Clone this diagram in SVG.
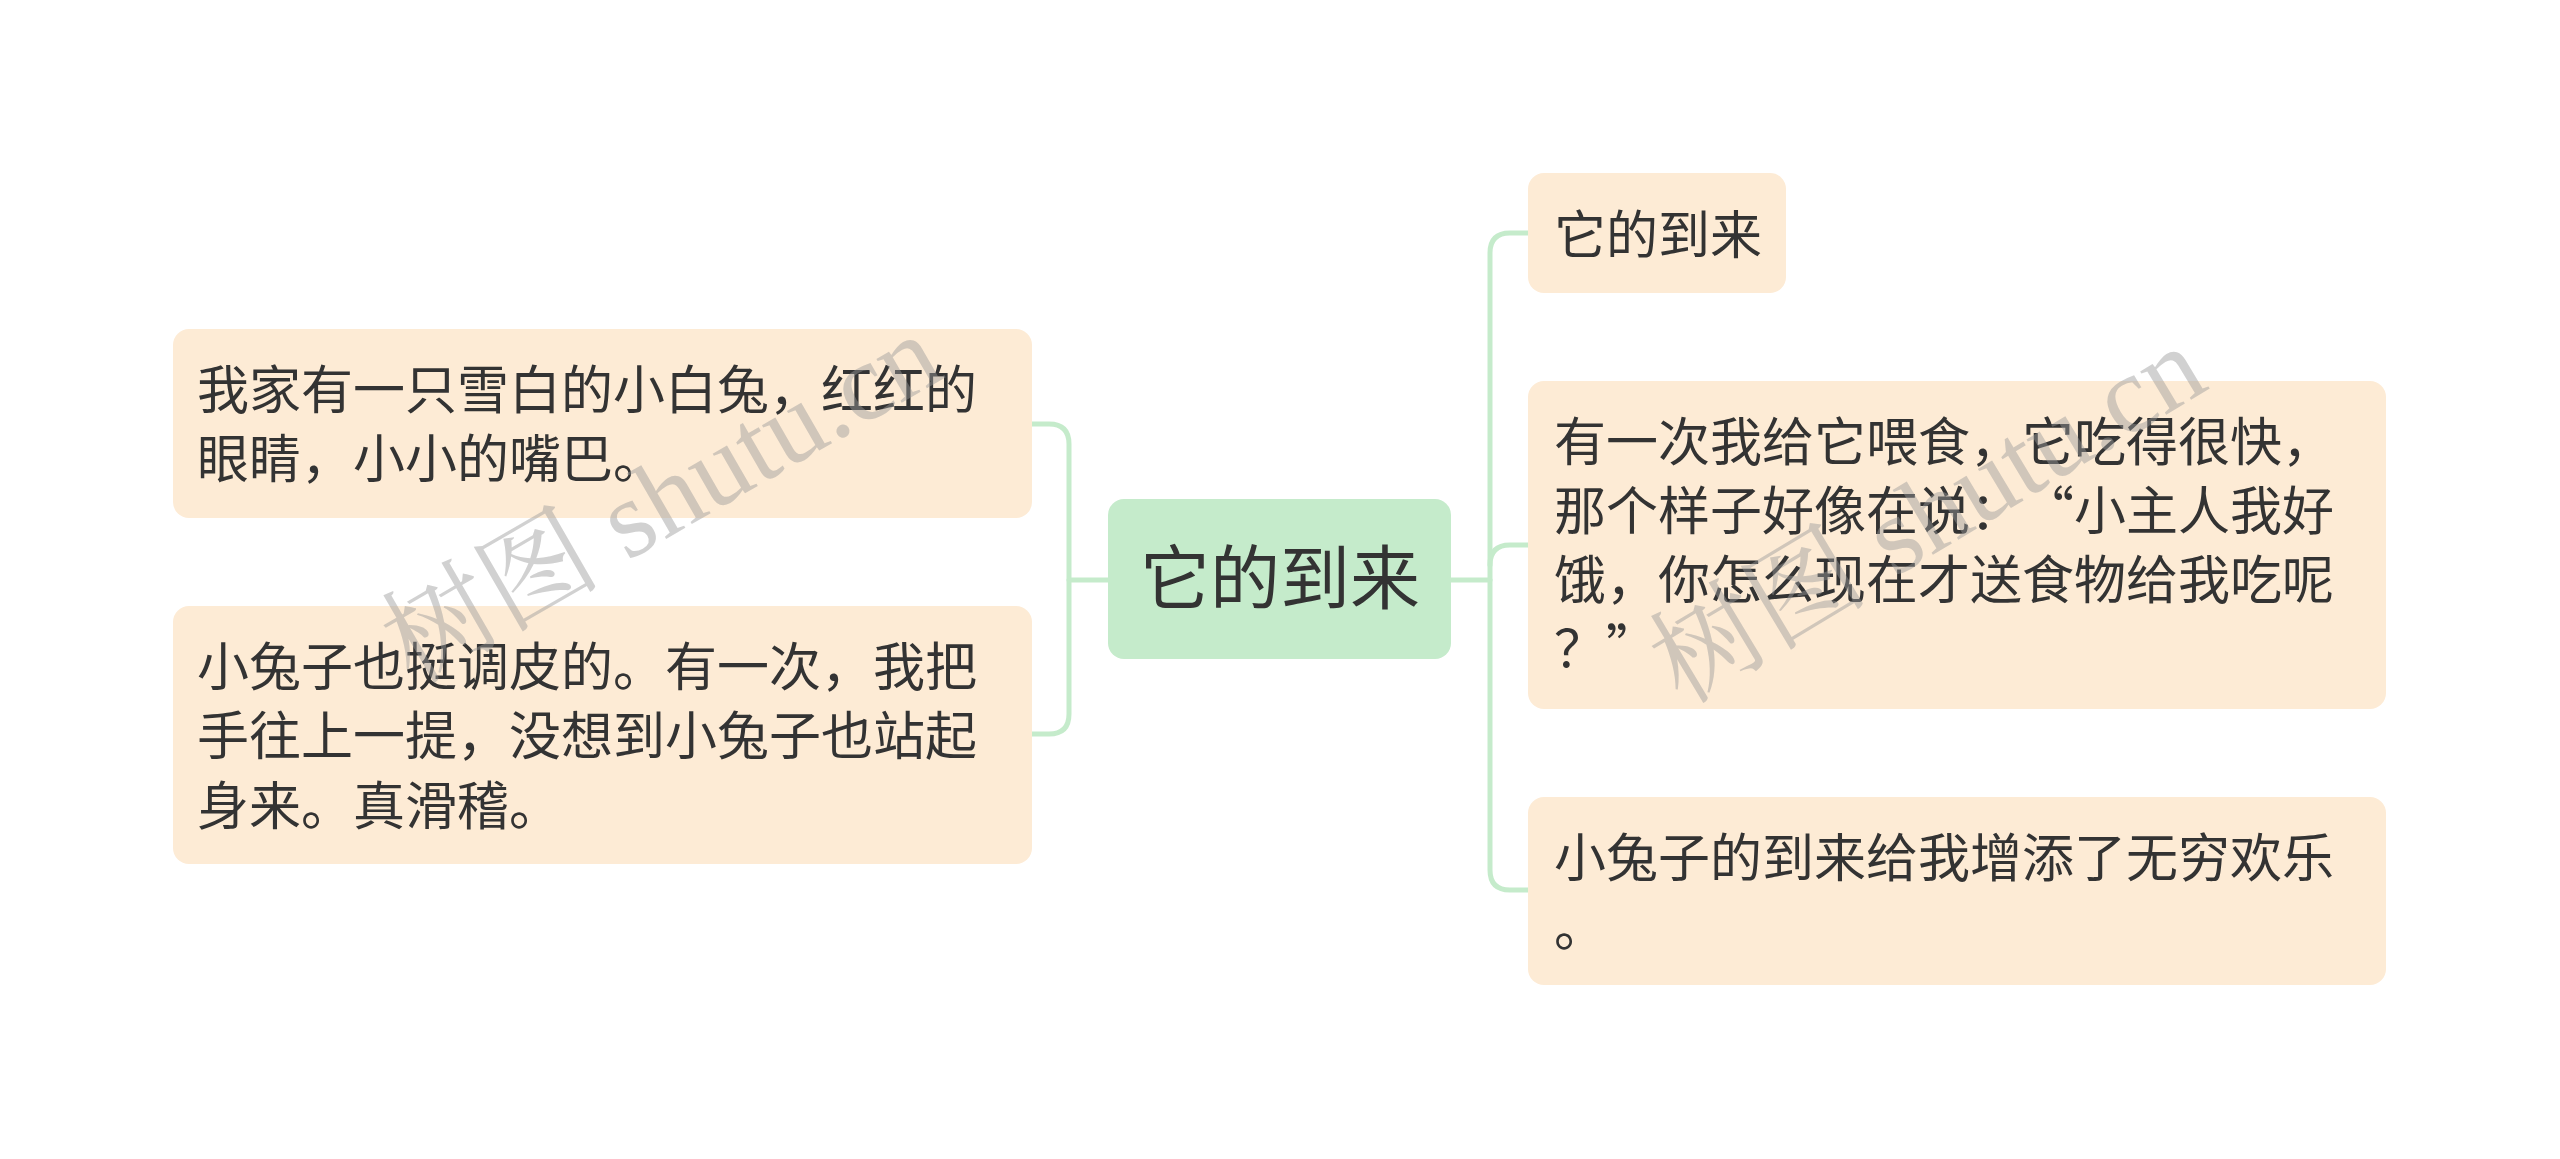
<svg xmlns="http://www.w3.org/2000/svg" width="2560" height="1159" viewBox="0 0 2560 1159">
<style>
.node{fill:#fdebd5}
.root{fill:#c5ebcb}
.t{font-family:"Noto Sans CJK SC","Noto Sans",sans-serif;font-size:52px;fill:#333333}
.rt{font-family:"Noto Sans CJK SC","Noto Sans",sans-serif;font-size:70px;fill:#333333}
.conn{fill:none;stroke:#c5ebcb;stroke-width:5;stroke-linecap:round}
.wm{font-family:"Liberation Serif","Noto Serif CJK SC","Noto Sans CJK SC",serif;font-size:110px;fill:#9a9a9a;fill-opacity:0.45}
</style>
<rect width="2560" height="1159" fill="#ffffff"/>
<g id="connectors">
<path class="conn" d="M1108,580 H1069"/>
<path class="conn" d="M1032,424 H1049 Q1069,424 1069,444 V714 Q1069,734 1049,734 H1032"/>
<path class="conn" d="M1451,580 H1490"/>
<path class="conn" d="M1528,233 H1510 Q1490,233 1490,253 V870 Q1490,890 1510,890 H1528"/>
<path class="conn" d="M1490,565 Q1490,545 1510,545 H1528"/>
</g>
<g id="root">
<rect class="root" x="1108" y="499" width="343" height="160" rx="16"/>
<text class="rt" x="1280" y="604" text-anchor="middle">它的到来</text>
</g>
<g id="left1">
<rect class="node" x="173" y="329" width="859" height="189" rx="16"/>
<text class="t" x="197" y="409">我家有一只雪白的小白兔，红红的</text>
<text class="t" x="197" y="478">眼睛，小小的嘴巴。</text>
</g>
<g id="left2">
<rect class="node" x="173" y="606" width="859" height="258" rx="16"/>
<text class="t" x="197" y="686">小兔子也挺调皮的。有一次，我把</text>
<text class="t" x="197" y="755">手往上一提，没想到小兔子也站起</text>
<text class="t" x="197" y="825">身来。真滑稽。</text>
</g>
<g id="right1">
<rect class="node" x="1528" y="173" width="258" height="120" rx="16"/>
<text class="t" x="1554" y="254">它的到来</text>
</g>
<g id="right2">
<rect class="node" x="1528" y="381" width="858" height="328" rx="16"/>
<text class="t" x="1554" y="461">有一次我给它喂食，它吃得很快，</text>
<text class="t" x="1554" y="530">那个样子好像在说：<tspan dx="26">“</tspan>小主人我好</text>
<text class="t" x="1554" y="599">饿，你怎么现在才送食物给我吃呢</text>
<text class="t" x="1554" y="668">？”</text>
</g>
<g id="right3">
<rect class="node" x="1528" y="797" width="858" height="188" rx="16"/>
<text class="t" x="1554" y="877">小兔子的到来给我增添了无穷欢乐</text>
<text class="t" x="1554" y="946">。</text>
</g>
<g id="watermarks">
<text class="wm" x="661" y="536" text-anchor="middle" transform="rotate(-30 661 498)">树图 shutu.cn</text>
<text class="wm" x="1927" y="552" text-anchor="middle" transform="rotate(-31 1927 514)">树图 shutu.cn</text>
</g>
</svg>
